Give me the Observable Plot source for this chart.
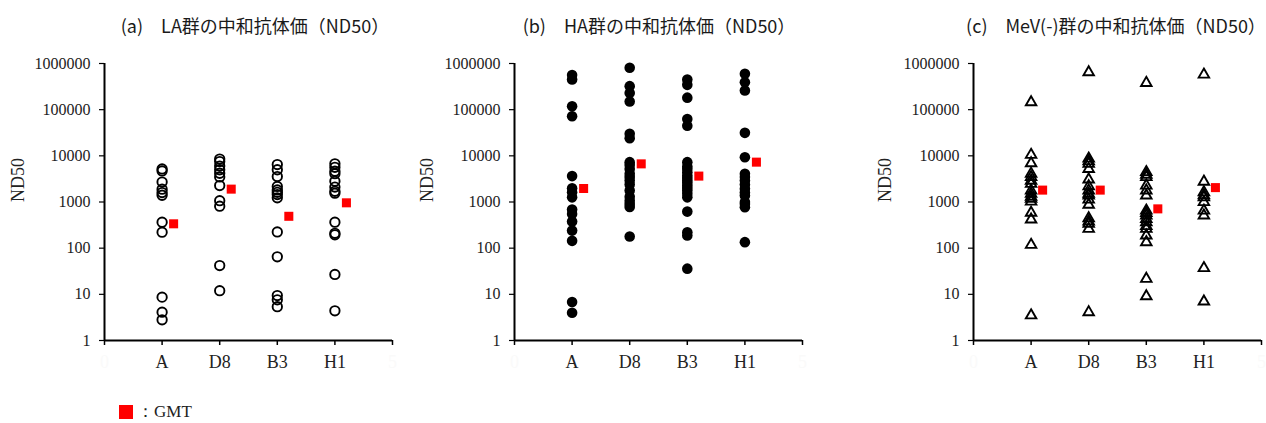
<!DOCTYPE html>
<html>
<head>
<meta charset="utf-8">
<script src="https://cdn.jsdelivr.net/npm/d3@7"></script>
<script src="https://cdn.jsdelivr.net/npm/@observablehq/plot@0.6"></script>
<style>
  body { margin: 0; background: #fff; }
  #root { position: relative; width: 1266px; height: 423px; overflow: hidden; }
  .panel { position: absolute; top: 0; }
  .title { position: absolute; top: 12px; font-family: "Noto Sans CJK JP", "Noto Sans", sans-serif; font-size: 18px; color: #1a1a1a; white-space: pre; transform: translateX(-50%); line-height: 26px; }
  #legend { position: absolute; left: 119px; top: 400px; font-family: "Liberation Serif", serif; font-size: 17px; color: #222; display: flex; align-items: center; }
  #legend .sw { width: 14px; height: 14px; background: #ff0000; display: inline-block; margin-right: 4px; }
</style>
</head>
<body>
<div id="root"></div>
<script>
// ---- data ----
const categories = ["A", "D8", "B3", "H1"];
const yTickValues = [1, 10, 100, 1000, 10000, 100000, 1000000];
const titles = ["(a)　LA群の中和抗体価（ND50）", "(b)　HA群の中和抗体価（ND50）", "(c)　MeV(-)群の中和抗体価（ND50）"];

// (a) LA group
const laA  = [5200, 4700, 2700, 1900, 1600, 1400, 365, 222, 8.7, 4.1, 2.8];
const laD8 = [8500, 7500, 6000, 5000, 4200, 3500, 2270, 1070, 810, 42, 12];
const laB3 = [6470, 5000, 3550, 2170, 1830, 1620, 1450, 1230, 225, 65, 9.4, 7.6, 5.4];
const laH1 = [6700, 5650, 4650, 4100, 2820, 2100, 1700, 1550, 365, 210, 195, 27, 4.4];
const laGMT = [337, 1900, 490, 960];

// (b) HA group
const haA  = [565000, 449000, 118000, 72000, 3640, 1990, 1620, 1260, 690, 550, 380, 240, 144, 6.8, 4.0];
const haD8 = [810000, 323000, 230000, 151000, 30000, 24000, 7300, 6300, 5200, 4100, 3500, 2940, 2400, 1780, 1300, 1070, 900, 780, 179];
const haB3 = [449000, 345000, 182000, 63000, 45000, 7300, 5900, 5200, 4400, 3730, 3300, 2940, 2600, 2270, 2000, 1780, 1500, 1260, 620, 222, 188, 36];
const haH1 = [600000, 392000, 260000, 31500, 9300, 4100, 3500, 2940, 2400, 1940, 1600, 1380, 1000, 910, 770, 135];
const haGMT = [1960, 6700, 3640, 7300];

// (c) MeV(-) group
const mvA  = [145000, 10500, 6900, 4100, 3460, 2900, 2470, 1780, 1500, 1300, 1170, 1020, 585, 418, 118, 3.5];
const mvD8 = [646000, 8700, 7600, 6700, 5200, 3070, 2200, 1780, 1500, 1380, 1130, 870, 445, 380, 337, 262, 4.1];
const mvB3 = [380000, 4440, 3900, 3460, 2270, 1780, 1380, 650, 580, 510, 430, 365, 300, 262, 188, 135, 21.7, 9.1];
const mvH1 = [575000, 2760, 1620, 1400, 1260, 995, 650, 510, 37, 7.0];
const mvGMT = [1810, 1810, 710, 2050];

// ---- build ----
function rows(seriesList) {
  return seriesList.flatMap((vals, i) => vals.map(v => ({cat: i + 1, v})));
}
function gmtRows(g) { return g.map((v, i) => ({cat: i + 1 + 0.2, v})); }

const serif = "Liberation Serif, Times New Roman, serif";
const xLabels = ["0", ...categories, "5"];

function panel({left, width, ml, mr, data, gmt, dotOpts, labelDx}) {
  const svg = Plot.plot({
    width, height: 423,
    marginLeft: ml, marginRight: mr, marginTop: 63, marginBottom: 83,
    style: {fontFamily: serif, overflow: "visible", background: "transparent"},
    x: {domain: [0, 5], axis: null},
    y: {type: "log", domain: [1, 1e6], axis: null},
    marks: [
      Plot.axisY({ticks: yTickValues, tickFormat: d => String(d), tickSize: 5, tickPadding: 9,
        fontSize: 16, fontFamily: serif, fill: "#222", stroke: "#000", strokeWidth: 1.2, label: null}),
      Plot.axisX({ticks: [0, 1, 2, 3, 4, 5], tickFormat: () => "", tickSize: 5, strokeWidth: 1.5, stroke: "#000", label: null}),
      Plot.axisX({ticks: [1, 2, 3, 4], tickFormat: d => xLabels[d], tickSize: 0, tickPadding: 15,
        fontSize: 18, fontFamily: serif, fill: "#222", label: null}),
      Plot.axisX({ticks: [0, 5], tickFormat: d => xLabels[d], tickSize: 0, tickPadding: 15,
        fontSize: 18, fontFamily: serif, fill: "#fafafa", label: null}),
      Plot.ruleX([0], {stroke: "#000", strokeWidth: 2}),
      Plot.ruleY([1], {stroke: "#000", strokeWidth: 2}),
      Plot.text(["ND50"], {frameAnchor: "left", dx: labelDx, rotate: -90, fontSize: 18, fontFamily: serif, fill: "#222"}),
      Plot.dot(data, {x: "cat", y: "v", ...dotOpts}),
      Plot.dot(gmt, {x: "cat", y: "v", symbol: "square", r: 5.1, fill: "#ff0000", stroke: "none"})
    ]
  });
  svg.classList.add("panel");
  svg.style.left = left + "px";
  return svg;
}

const root = document.getElementById("root");
root.appendChild(panel({left: 0, width: 420, ml: 104, mr: 28,
  data: rows([laA, laD8, laB3, laH1]), gmt: gmtRows(laGMT), labelDx: -86,
  dotOpts: {symbol: "circle", r: 4.7, fill: "none", stroke: "#000", strokeWidth: 1.9}}));
root.appendChild(panel({left: 420, width: 420, ml: 94, mr: 38,
  data: rows([haA, haD8, haB3, haH1]), gmt: gmtRows(haGMT), labelDx: -87,
  dotOpts: {symbol: "circle", r: 5.3, fill: "#000", stroke: "none"}}));
root.appendChild(panel({left: 840, width: 426, ml: 133, mr: 5,
  data: rows([mvA, mvD8, mvB3, mvH1]), gmt: gmtRows(mvGMT), labelDx: -88,
  dotOpts: {symbol: "triangle", r: 3.9, fill: "none", stroke: "#000", strokeWidth: 1.9}}));

const titleCenters = [255, 659, 1116];
titles.forEach((t, i) => {
  const d = document.createElement("div");
  d.className = "title";
  d.style.left = titleCenters[i] + "px";
  d.textContent = t;
  root.appendChild(d);
});

const lg = document.createElement("div");
lg.id = "legend";
lg.innerHTML = '<span class="sw"></span><span>：GMT</span>';
root.appendChild(lg);
</script>
</body>
</html>
